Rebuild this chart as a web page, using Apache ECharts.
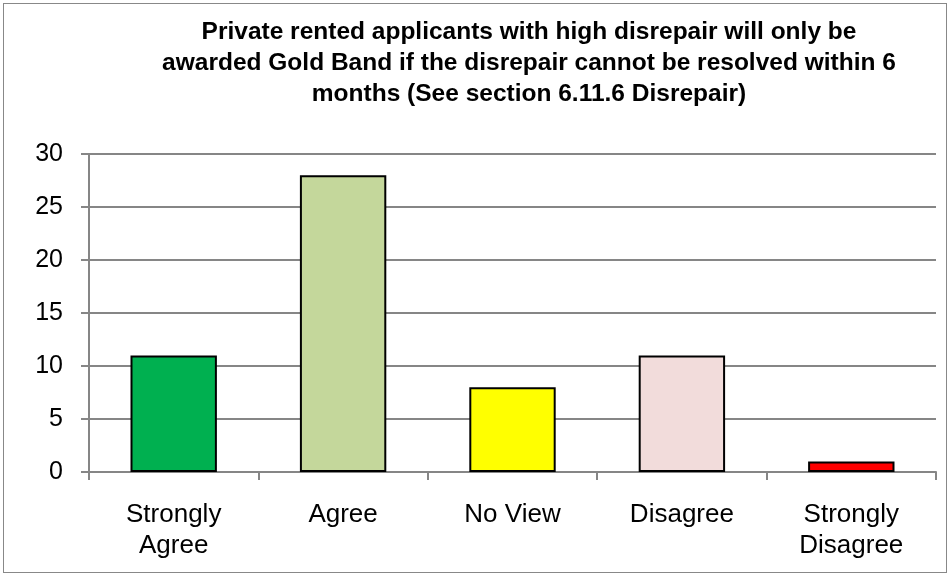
<!DOCTYPE html>
<html>
<head>
<meta charset="utf-8">
<script src="https://cdn.jsdelivr.net/npm/echarts@6/dist/echarts.min.js"></script>
<style>
  html, body { margin: 0; padding: 0; background: #fff; }
  #frame { position: absolute; left: 3px; top: 3px; width: 944px; height: 570px; border: 1px solid #888; box-sizing: border-box; }
  #chart { width: 952px; height: 578px; position: absolute; left: 0; top: 0; }
</style>
</head>
<body>
<div id="frame"></div>
<div id="chart"></div>
<script>
const categories = ['Strongly\nAgree', 'Agree', 'No View', 'Disagree', 'Strongly\nDisagree'];
const responses = [11, 28, 8, 11, 1];
const barColors = ['#00B050', '#C4D79B', '#FFFF00', '#F2DCDB', '#FF0000'];
const titleText = 'Private rented applicants with high disrepair will only be\nawarded Gold Band if the disrepair cannot be resolved within 6\nmonths (See section 6.11.6 Disrepair)';

const chart = echarts.init(document.getElementById('chart'), null, { renderer: 'canvas' });
chart.setOption({
  animation: false,
  backgroundColor: 'transparent',
  title: {
    text: titleText,
    left: 524,
    top: 12,
    textAlign: 'center',
    textStyle: {
      fontFamily: '"Liberation Sans", Arial, sans-serif',
      fontSize: 24.5,
      fontWeight: 'bold',
      color: '#000',
      lineHeight: 31
    }
  },
  grid: { left: 89, right: 16, top: 154, bottom: 106 },
  xAxis: {
    type: 'category',
    data: categories,
    axisLine: { lineStyle: { color: '#868686', width: 2 } },
    axisTick: { show: true, length: 8, lineStyle: { color: '#868686', width: 2 } },
    axisLabel: {
      fontFamily: '"Liberation Sans", Arial, sans-serif',
      fontSize: 26,
      color: '#000',
      margin: 27,
      lineHeight: 31
    }
  },
  yAxis: {
    type: 'value',
    min: 0,
    max: 30,
    interval: 5,
    axisLine: { show: true, lineStyle: { color: '#868686', width: 2 } },
    axisTick: { show: true, length: 8, lineStyle: { color: '#868686', width: 2 } },
    splitLine: { lineStyle: { color: '#868686', width: 2 } },
    axisLabel: {
      fontFamily: '"Liberation Sans", Arial, sans-serif',
      fontSize: 25,
      color: '#000',
      margin: 26
    }
  },
  series: [{
    type: 'bar',
    barWidth: '51%',
    data: responses.map((v, i) => ({
      value: v,
      itemStyle: { color: barColors[i], borderColor: '#000', borderWidth: 2 }
    }))
  }]
});
</script>
</body>
</html>
